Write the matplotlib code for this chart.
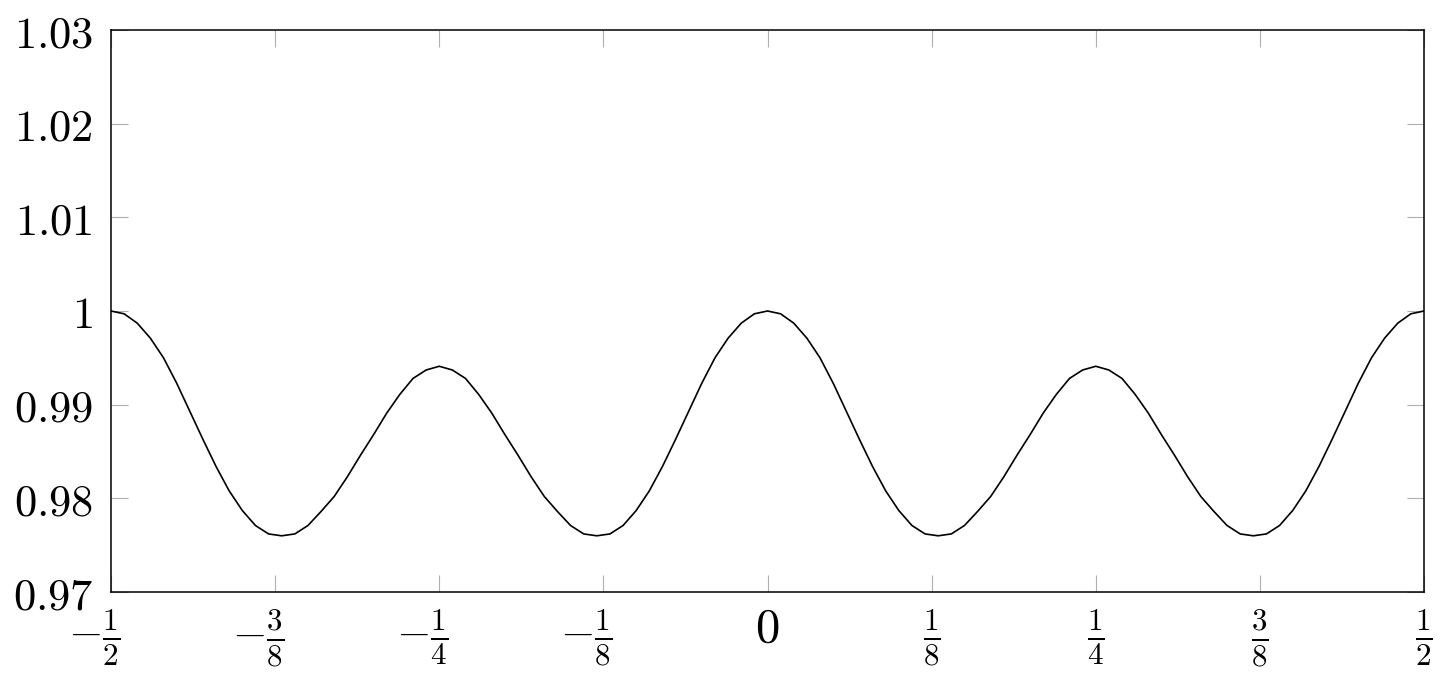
import matplotlib
matplotlib.use("Agg")
import matplotlib.pyplot as plt
import matplotlib.transforms as mtransforms

plt.rcParams['mathtext.fontset'] = 'cm'

# x positions in steps of 0.01 from -1/2 to 1/2
x_start = -0.5
x_step = 0.01
y_values = [
    1.0000, 0.9997, 0.9987, 0.9971, 0.9950, 0.9923, 0.9893, 0.9863, 0.9834, 0.9808,
    0.9787, 0.9771, 0.9762, 0.9760, 0.9762, 0.9771, 0.9786, 0.9802, 0.9823, 0.9846,
    0.9868, 0.9891, 0.9911, 0.9928, 0.9937, 0.9941, 0.9937, 0.9928, 0.9911, 0.9891,
    0.9868, 0.9846, 0.9823, 0.9802, 0.9786, 0.9771, 0.9762, 0.9760, 0.9762, 0.9771,
    0.9787, 0.9808, 0.9834, 0.9863, 0.9893, 0.9923, 0.9950, 0.9971, 0.9987, 0.9997,
    1.0000, 0.9997, 0.9987, 0.9971, 0.9950, 0.9923, 0.9893, 0.9863, 0.9834, 0.9808,
    0.9787, 0.9771, 0.9762, 0.9760, 0.9762, 0.9771, 0.9786, 0.9802, 0.9823, 0.9846,
    0.9868, 0.9891, 0.9911, 0.9928, 0.9937, 0.9941, 0.9937, 0.9928, 0.9911, 0.9891,
    0.9868, 0.9846, 0.9823, 0.9802, 0.9786, 0.9771, 0.9762, 0.9760, 0.9762, 0.9771,
    0.9787, 0.9808, 0.9834, 0.9863, 0.9893, 0.9923, 0.9950, 0.9971, 0.9987, 0.9997,
    1.0000,
]
x_values = [x_start + i * x_step for i in range(len(y_values))]

x_ticks = [-0.5, -0.375, -0.25, -0.125, 0.0, 0.125, 0.25, 0.375, 0.5]
x_tick_labels = [r'$-\frac{1}{2}$', r'$-\frac{3}{8}$', r'$-\frac{1}{4}$', r'$-\frac{1}{8}$',
                 r'$0$', r'$\frac{1}{8}$', r'$\frac{1}{4}$', r'$\frac{3}{8}$', r'$\frac{1}{2}$']
y_ticks = [0.97, 0.98, 0.99, 1.00, 1.01, 1.02, 1.03]
y_tick_labels = [r'$0.97$', r'$0.98$', r'$0.99$', r'$1$', r'$1.01$', r'$1.02$', r'$1.03$']

fig = plt.figure(figsize=(14.54, 6.79), dpi=100)
ax = fig.add_axes([111/1454, 1 - 592/679, (1424-111)/1454, (592-30)/679])
ax.plot(x_values, y_values, color='black', linewidth=1.2)
ax.set_xlim(-0.5, 0.5)
ax.set_ylim(0.97, 1.03)
ax.set_xticks(x_ticks)
ax.set_xticklabels(x_tick_labels)
ax.set_yticks(y_ticks)
ax.set_yticklabels(y_tick_labels)
ax.tick_params(axis='both', which='both', direction='in', length=12, width=0.8,
               color='#b0b0b0', top=True, right=True)
ax.tick_params(axis='y', labelsize=32, pad=13)
ax.tick_params(axis='x', labelsize=32, pad=11)

# centre the fraction (not the minus sign) under each tick
shift_neg = mtransforms.ScaledTranslation(9/100, 0, fig.dpi_scale_trans)
shift_zero = mtransforms.ScaledTranslation(0, 4/100, fig.dpi_scale_trans)
for lbl in ax.get_xticklabels():
    t = lbl.get_text()
    if t.startswith('$-'):
        lbl.set_horizontalalignment('right')
        lbl.set_transform(lbl.get_transform() + shift_neg)
    elif t == '$0$':
        lbl.set_fontsize(35)
        lbl.set_transform(lbl.get_transform() + shift_zero)

for s in ax.spines.values():
    s.set_linewidth(1.1)
    s.set_color('black')
fig.savefig('out.png', dpi=100)
